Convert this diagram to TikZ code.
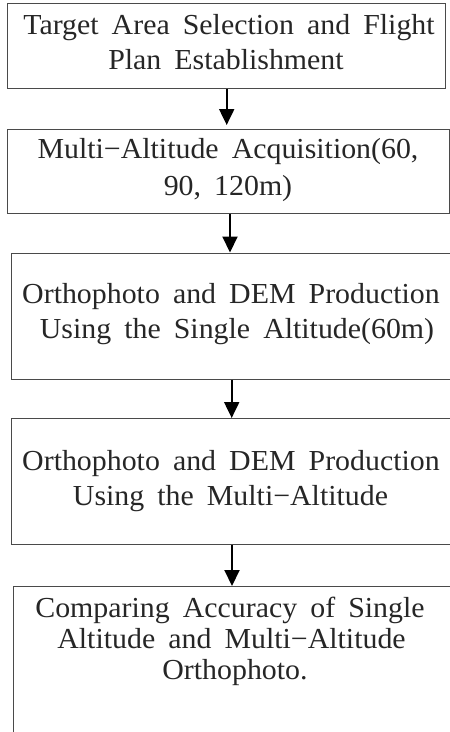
\documentclass[tikz,border=0pt]{standalone}
\usepackage{fontspec}
\setmainfont{Liberation Serif}[FakeStretch=1.03, WordSpace=1.75]
\usetikzlibrary{arrows.meta}
\definecolor{frame}{HTML}{4A4A4A}
\definecolor{ink}{HTML}{262626}
\begin{document}
\begin{tikzpicture}[x=1pt, y=-1pt,
  box/.style={draw=frame, line width=0.9pt, rectangle, inner sep=0pt,
    anchor=north west},
  txt/.style={inner sep=0pt, anchor=base, text=ink,
    font=\fontsize{29}{34}\selectfont},
  arr/.style={draw=black, line width=2pt,
    -{Triangle[width=15pt, length=16pt]}}]
  \useasboundingbox (0,0) rectangle (450,732);
  \clip (0,0) rectangle (450,732);

  % frames of the process steps
  \node[box, minimum width=438pt, minimum height=85pt]   (b1) at (7,3) {};
  \node[box, minimum width=442pt, minimum height=84pt]   (b2) at (7,129) {};
  \node[box, minimum width=470pt, minimum height=126.5pt] (b3) at (11,252.5) {};
  \node[box, minimum width=470pt, minimum height=126pt]  (b4) at (10.5,418) {};
  \node[box, minimum width=470pt, minimum height=200pt]  (b5) at (12.5,586) {};

  % step texts, one node per printed line
  \node[txt] (t1a) at (229,34)    {Target Area Selection and Flight};
  \node[txt] (t1b) at (226,69)    {Plan Establishment};
  \node[txt] (t2a) at (228,158.5) {Multi−Altitude Acquisition(60,};
  \node[txt] (t2b) at (228,195.5) {90, 120m)};
  \node[txt] (t3a) at (231,303.5) {Orthophoto and DEM Production};
  \node[txt] (t3b) at (237,338)   {Using the Single Altitude(60m)};
  \node[txt] (t4a) at (231,470.5) {Orthophoto and DEM Production};
  \node[txt] (t4b) at (230.5,505.5) {Using the Multi−Altitude};
  \node[txt] (t5a) at (230,617.5) {Comparing Accuracy of Single};
  \node[txt] (t5b) at (231.5,648) {Altitude and Multi−Altitude};
  \node[txt] (t5c) at (235,679)   {Orthophoto.};

  % arrow columns
  \coordinate (c1) at (226.7,0);
  \coordinate (c2) at (230,0);
  \coordinate (c3) at (231.7,0);
  \coordinate (c4) at (232,0);

  \draw[arr, shorten >=4pt] (b1.south -| c1) -- (b2.north -| c1);
  \draw[arr] (b2.south -| c2) -- (b3.north -| c2);
  \draw[arr] (b3.south -| c3) -- (b4.north -| c3);
  \draw[arr] (b4.south -| c4) -- (b5.north -| c4);
\end{tikzpicture}
\end{document}
